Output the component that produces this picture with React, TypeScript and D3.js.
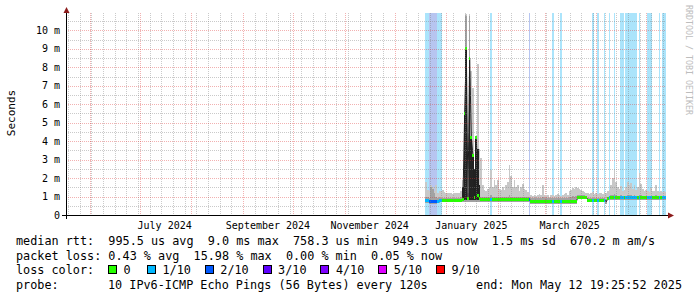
import React, { useLayoutEffect } from "react";
import * as d3 from "d3";

// ---- time frame ----
const endTime = new Date("2025-05-12T19:25:52Z");
const rangeDays = 360;
const startTime = new Date(endTime.getTime() - rangeDays * 864e5);
const dataStart = new Date("2024-12-19T12:00:00Z");
const stepMs = 864e5;

// ---- per-day consolidated values (ms), k = 0 .. 144 from dataStart ----
const medianMs = [
  0.78, 0.76, 0.74, 0.73, 0.73, 0.73, 0.74, 0.75, 0.77, 0.8,
  0.8, 0.8, 0.8, 0.8, 0.8, 0.8, 0.8, 0.8, 0.8, 0.8,
  0.8, 0.8, 0.85, 5.5, 9.0, 0.9, 8.5, 4.2, 3.2, 0.95,
  4.2, 1.04, 0.9, 0.85, 0.84, 0.84, 0.84, 0.84, 0.84, 0.84,
  0.84, 0.84, 0.84, 0.84, 0.84, 0.84, 0.84, 0.84, 0.84, 0.84,
  0.84, 0.84, 0.84, 0.84, 0.84, 0.84, 0.84, 0.84, 0.84, 0.84,
  0.84, 0.84, 0.85, 0.74, 0.74, 0.74, 0.74, 0.74, 0.74, 0.74,
  0.74, 0.74, 0.74, 0.74, 0.74, 0.74, 0.74, 0.74, 0.74, 0.74,
  0.74, 0.74, 0.74, 0.74, 0.74, 0.74, 0.74, 0.74, 0.74, 0.74,
  0.74, 0.96, 0.96, 0.96, 0.96, 0.96, 0.96, 0.81, 0.81, 0.81,
  0.81, 0.81, 0.81, 0.81, 0.81, 0.81, 0.81, 0.81, 0.72, 0.9,
  0.94, 0.94, 0.94, 0.94, 0.94, 0.94, 0.94, 0.94, 0.94, 0.94,
  0.94, 0.94, 0.94, 0.94, 0.94, 0.94, 0.94, 0.94, 0.94, 0.94,
  0.94, 0.94, 0.94, 0.94, 0.94, 0.94, 0.94, 0.94, 0.94, 0.94,
  0.94, 0.94, 0.94, 0.94, 0.94,
];

const smokeMaxMs = [
  1.8, 1.35, 1.3, 1.65, 1.5, 1.3, 1.6, 1.2, 1.3, 1.3,
  1.35, 1.25, 1.2, 1.2, 1.2, 1.2, 1.15, 1.2, 1.2, 1.2,
  1.2, 1.3, 1.9, 5.6, 10.9, 1.2, 10.9, 7.8, 6.9, 2.5,
  4.3, 8.2, 3.6, 3.1, 1.6, 1.35, 1.3, 1.4, 1.5, 2.45,
  1.5, 1.9, 1.6, 1.9, 1.4, 1.35, 1.5, 1.35, 1.6, 1.8,
  2.7, 2.1, 1.5, 1.9, 1.5, 1.6, 1.3, 1.5, 1.7, 1.4,
  1.35, 1.25, 1.2, 1.1, 1.05, 1.1, 1.05, 1.1, 1.15, 1.1,
  1.6, 1.1, 1.05, 1.1, 1.0, 1.1, 1.1, 1.05, 1.1, 1.15,
  1.1, 1.05, 1.1, 1.15, 1.2, 1.1, 1.3, 1.35, 1.45, 1.4,
  1.5, 1.45, 1.4, 1.35, 1.3, 1.25, 1.2, 1.2, 1.15, 1.2,
  1.25, 1.15, 1.2, 1.15, 1.2, 1.2, 1.15, 1.25, 1.2, 1.3,
  1.35, 1.6, 2.0, 2.45, 1.8, 1.5, 1.4, 1.55, 1.3, 1.35,
  1.5, 1.8, 1.6, 1.75, 1.4, 1.6, 1.35, 1.5, 2.3, 1.7,
  1.4, 1.3, 1.35, 1.3, 1.25, 1.45, 1.3, 1.3, 1.6, 1.3,
  1.25, 1.3, 1.25, 1.3, 1.25,
];

const smokeMidMs = [
  1.0, 0.95, 0.9, 1.5, 1.4, 1.2, 1.0, 0.9, 0.95, 0.92,
  0.9, 0.9, 0.9, 0.9, 0.9, 0.9, 0.9, 0.9, 0.9, 0.9,
  0.9, 0.95, 1.2, 5.5, 10.8, 1.0, 10.8, 4.2, 3.2, 2.5,
  4.2, 3.6, 1.6, 1.0, 0.96, 0.95, 0.95, 0.96, 1.0, 1.1,
  0.96, 1.0, 0.96, 1.0, 0.95, 0.95, 0.96, 0.95, 0.98, 1.0,
  1.1, 1.0, 0.96, 1.0, 0.96, 0.96, 0.95, 0.96, 0.98, 0.95,
  0.95, 0.95, 0.95, 0.92, 0.92, 0.92, 0.92, 0.92, 0.92, 0.92,
  1.0, 0.92, 0.92, 0.92, 0.92, 0.92, 0.92, 0.92, 0.92, 0.92,
  0.92, 0.92, 0.92, 0.92, 0.94, 0.92, 0.96, 0.98, 1.02, 1.0,
  1.02, 1.06, 1.06, 1.06, 1.06, 1.06, 1.05, 0.91, 0.91, 0.91,
  0.91, 0.91, 0.91, 0.91, 0.91, 0.91, 0.91, 0.91, 0.85, 1.0,
  1.04, 1.06, 1.1, 1.15, 1.08, 1.05, 1.04, 1.06, 1.04, 1.04,
  1.05, 1.08, 1.06, 1.08, 1.04, 1.06, 1.04, 1.05, 1.1, 1.06,
  1.04, 1.04, 1.04, 1.04, 1.04, 1.05, 1.04, 1.04, 1.06, 1.04,
  1.04, 1.04, 1.04, 1.04, 1.04,
];

const smokeMinMs = [
  0.64, 0.63, 0.62, 0.61, 0.61, 0.61, 0.62, 0.63, 0.65, 0.68,
  0.68, 0.68, 0.68, 0.68, 0.68, 0.68, 0.68, 0.68, 0.68, 0.68,
  0.68, 0.68, 0.7, 0.72, 0.72, 0.72, 0.72, 0.72, 0.72, 0.72,
  0.72, 0.72, 0.72, 0.71, 0.71, 0.71, 0.71, 0.71, 0.71, 0.71,
  0.71, 0.71, 0.71, 0.71, 0.71, 0.71, 0.71, 0.71, 0.71, 0.71,
  0.71, 0.71, 0.71, 0.71, 0.71, 0.71, 0.71, 0.71, 0.71, 0.71,
  0.71, 0.71, 0.71, 0.62, 0.62, 0.62, 0.62, 0.62, 0.62, 0.62,
  0.62, 0.62, 0.62, 0.62, 0.62, 0.62, 0.62, 0.62, 0.62, 0.62,
  0.62, 0.62, 0.62, 0.62, 0.62, 0.62, 0.62, 0.62, 0.62, 0.62,
  0.62, 0.84, 0.84, 0.84, 0.84, 0.84, 0.84, 0.69, 0.69, 0.69,
  0.69, 0.69, 0.69, 0.69, 0.69, 0.69, 0.69, 0.69, 0.62, 0.8,
  0.82, 0.82, 0.82, 0.82, 0.82, 0.82, 0.82, 0.82, 0.82, 0.82,
  0.82, 0.82, 0.82, 0.82, 0.82, 0.82, 0.82, 0.82, 0.82, 0.82,
  0.82, 0.82, 0.82, 0.82, 0.82, 0.82, 0.82, 0.82, 0.82, 0.82,
  0.82, 0.82, 0.82, 0.82, 0.82,
];

// loss class index into lossColors (-1: no median mark)
const lossClass = [
  1, 1, 2, 2, 2, 2, 2, 1, 1, 1,
  0, 0, 0, 0, 0, 0, 0, 0, 0, 0,
  0, 0, 0, 0, 0, 0, 0, 0, 0, 0,
  0, 0, 0, 0, 0, 0, 0, 0, 0, 1,
  0, 0, 0, 0, 0, 0, 0, 0, 0, 0,
  0, 0, 0, 0, 0, 0, 0, 0, 0, 0,
  0, 0, 2, 0, 0, 0, 0, 0, 0, 0,
  0, 0, 0, 0, 0, 0, 1, 0, 0, 0,
  0, 1, 0, 0, 0, 0, 0, 0, 0, 0,
  0, 0, 0, 0, 0, 0, 0, 0, 0, 0,
  1, 0, 0, 1, 0, 0, 0, 1, -1, 0,
  1, 0, 0, 1, 0, 0, 0, 1, 1, 0,
  1, 1, 1, 1, 1, 1, 1, 0, 1, 0,
  0, 0, 0, 1, 1, 1, 0, 0, 0, 0,
  1, 0, 1, 1, 1,
];

// dark inner smoke during the January spike
const darkDays = [22, 23, 24, 26, 27, 28, 29, 30, 31, 32];
const darkTopMs = [1.5, 5.5, 9.0, 8.5, 4.2, 3.2, 2.5, 4.2, 3.6, 1.6];

const lossColors = ["#26ff00", "#00b8ff", "#0059ff", "#5e00ff", "#7e00ff", "#dd00ff", "#ff0000"];
const lossLabels = ["0", "1/10", "2/10", "3/10", "4/10", "5/10", "9/10"];
const lossBgColors = ["none", "#abe4fb", "#b7c5f0"];

const yTicks = [0, 1, 2, 3, 4, 5, 6, 7, 8, 9, 10];
const yTickLabels = ["0", "1 m", "2 m", "3 m", "4 m", "5 m", "6 m", "7 m", "8 m", "9 m", "10 m"];
const yMinorTicks = [0.5, 1.5, 2.5, 3.5, 4.5, 5.5, 6.5, 7.5, 8.5, 9.5, 10.5];
const xLabelMonths = ["2024-07-01", "2024-09-01", "2024-11-01", "2025-01-01", "2025-03-01"];
const xLabelTexts = ["July 2024", "September 2024", "November 2024", "January 2025", "March 2025"];

const legendLine1 = "median rtt:  995.5 us avg  9.0 ms max  758.3 us min  949.3 us now  1.5 ms sd  670.2 m am/s";
const legendLine2 = "packet loss: 0.43 % avg  15.98 % max  0.00 % min  0.05 % now";
const probeText = "10 IPv6-ICMP Echo Pings (56 Bytes) every 120s";
const endText = "end: Mon May 12 19:25:52 2025";

const MONO = "'DejaVu Sans Mono', monospace";
const keepSpaces = (s: string) => s.replace(/ /g, "\u00a0");

export default function App() {
  useLayoutEffect(() => {
    document.body.style.margin = "0";
  }, []);

  const left = 66, right = 666, top = 13, bottom = 215;
  const x = d3.scaleUtc().domain([startTime, endTime]).range([left, right]);
  const y = d3.scaleLinear().domain([0, 10.94]).range([bottom, top]);
  const tk = (k: number) => new Date(dataStart.getTime() + k * stepMs);

  const cols = medianMs.map((m, k) => {
    const x0 = x(tk(k));
    const x1 = Math.min(x(tk(k + 1)), right);
    return { k, x0, x1, w: Math.max(0, x1 - x0), m };
  });

  const darkMap = new Map<number, number>();
  darkDays.forEach((d, i) => darkMap.set(d, darkTopMs[i]));

  const medLine = d3
    .line<{ k: number; x0: number; x1: number; m: number }>()
    .x((d) => (d.x0 + d.x1) / 2)
    .y((d) => y(d.m));

  const months = d3.utcMonth.range(d3.utcMonth.ceil(startTime), endTime);
  const monthKeys = new Set(months.map((d) => d.getTime()));
  const weeks = d3.utcSunday.range(startTime, endTime).filter((d) => !monthKeys.has(d.getTime()));

  const px = (v: number) => Math.round(v) + 0.5;

  const legendBoxX = [108, 147, 204.8, 262.6, 320.4, 378.2, 436];
  const minorStroke = "rgba(128,128,128,0.42)";
  const majorStroke = "rgba(220,50,50,0.38)";

  return (
    <svg width={697} height={297} viewBox="0 0 697 297" style={{ display: "block", background: "#fff" }}>
      <rect x={0} y={0} width={697} height={297} fill="#ffffff" />
      {/* loss background */}
      <g shapeRendering="crispEdges">
        {cols.map((c) =>
          lossClass[c.k] > 0 ? (
            <rect key={"bg" + c.k} x={c.x0} y={top} width={c.w} height={bottom - top}
              fill={lossBgColors[Math.min(lossClass[c.k], 2)]} />
          ) : null
        )}
      </g>
      {/* smoke */}
      <g shapeRendering="crispEdges">
        {cols.map((c) => (
          <rect key={"s1" + c.k} x={c.x0} width={c.w} y={y(smokeMaxMs[c.k])}
            height={y(smokeMinMs[c.k]) - y(smokeMaxMs[c.k])} fill="#c8c8c8" />
        ))}
        {cols.map((c) => (
          <rect key={"s2" + c.k} x={c.x0} width={c.w} y={y(smokeMidMs[c.k])}
            height={Math.max(0, y(smokeMinMs[c.k]) - y(smokeMidMs[c.k]))} fill="#a2a2a2" />
        ))}
        {cols.map((c) =>
          darkMap.has(c.k) ? (
            <rect key={"s3" + c.k} x={c.x0} width={c.w} y={y(darkMap.get(c.k)!)}
              height={y(smokeMinMs[c.k] + 0.1) - y(darkMap.get(c.k)!)} fill="#232323" />
          ) : null
        )}
      </g>
      {/* median line */}
      <path d={medLine(cols) || ""} fill="none" stroke="#202020" strokeWidth={1} />
      <g shapeRendering="crispEdges">
        {cols.map((c) =>
          lossClass[c.k] >= 0 ? (
            <rect key={"m" + c.k} x={c.x0} width={c.w} y={Math.round(y(c.m) - 1.5)} height={3}
              fill={lossColors[lossClass[c.k]]} />
          ) : null
        )}
      </g>
      {/* grid */}
      <g shapeRendering="crispEdges" strokeWidth={1} strokeDasharray="1,1" fill="none">
        {yMinorTicks.map((v) => (
          <line key={"hy" + v} x1={left} x2={right} y1={px(y(v))} y2={px(y(v))} stroke={minorStroke} />
        ))}
        {weeks.map((d) => (
          <line key={"wx" + d.getTime()} x1={px(x(d))} x2={px(x(d))} y1={top} y2={bottom} stroke={minorStroke} />
        ))}
        {yTicks.filter((v) => v > 0).map((v) => (
          <line key={"my" + v} x1={left} x2={right} y1={px(y(v))} y2={px(y(v))} stroke={majorStroke} />
        ))}
        {months.map((d) => (
          <line key={"mx" + d.getTime()} x1={px(x(d))} x2={px(x(d))} y1={top} y2={bottom} stroke={majorStroke} />
        ))}
      </g>
      {/* axes */}
      <g shapeRendering="crispEdges" stroke="#000" strokeWidth={1}>
        <line x1={62} x2={668} y1={bottom + 0.5} y2={bottom + 0.5} />
        <line x1={left + 0.5} x2={left + 0.5} y1={12} y2={bottom + 4} />
      </g>
      <path d={`M${left - 2.5},13 L${left + 3.5},13 L${left + 0.5},7 Z`} fill="#8c1c1c" />
      <path d={`M668,${bottom - 2.5} L668,${bottom + 3.5} L674,${bottom + 0.5} Z`} fill="#8c1c1c" />
      {/* y tick labels */}
      <g fontFamily={MONO} fontSize={10} fill="#000" textAnchor="end">
        {yTicks.map((v, i) => (
          <text key={"yl" + v} x={60} y={y(v)} dy="0.36em">{keepSpaces(yTickLabels[i])}</text>
        ))}
      </g>
      {/* x labels */}
      <g fontFamily={MONO} fontSize={10} fill="#000" textAnchor="middle">
        {xLabelMonths.map((m, i) => {
          const d = new Date(m + "T00:00:00Z");
          const mid = new Date(d.getTime() + 15 * 864e5);
          return (
            <text key={"xl" + m} x={x(mid)} y={228.5}>{keepSpaces(xLabelTexts[i])}</text>
          );
        })}
      </g>
      <text x={0} y={0} transform="translate(14.5,113) rotate(-90)" fontFamily={MONO} fontSize={11}
        textAnchor="middle" fill="#000">Seconds</text>
      <text x={0} y={0} transform="translate(686,5) rotate(90)" fontFamily={MONO} fontSize={8.3}
        fill="#bdbdbd">{keepSpaces("RRDTOOL / TOBI OETIKER")}</text>
      {/* legend */}
      <g fontFamily={MONO} fontSize={11.8} fill="#000">
        <text x={16} y={245}>{keepSpaces(legendLine1)}</text>
        <text x={16} y={259.5}>{keepSpaces(legendLine2)}</text>
        <text x={16} y={274}>{keepSpaces("loss color:")}</text>
        {lossLabels.map((l, i) => (
          <g key={"lg" + l}>
            <rect x={legendBoxX[i] + 0.5} y={265.5} width={8} height={8} fill={lossColors[i]} stroke="#000"
              strokeWidth={1} shapeRendering="crispEdges" />
            <text x={legendBoxX[i] + 15.5} y={274}>{l}</text>
          </g>
        ))}
        <text x={16} y={288.5}>probe:</text>
        <text x={108} y={288.5}>{keepSpaces(probeText)}</text>
        <text x={682} y={288.5} textAnchor="end">{keepSpaces(endText)}</text>
      </g>
    </svg>
  );
}
